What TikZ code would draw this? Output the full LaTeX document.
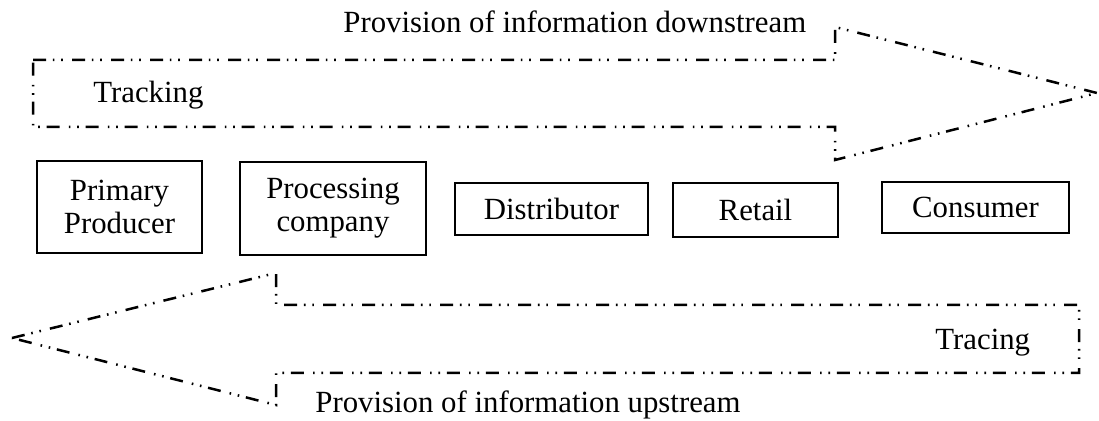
\documentclass[tikz,border=0pt]{standalone}
\usepackage{fontspec}
\setmainfont{Liberation Serif}
\begin{document}
\begin{tikzpicture}[x=0.5pt,y=-0.5pt,
  flow/.style={line width=1.25pt, dash pattern=on 6.5pt off 3.4pt on 0.8pt off 3.4pt on 0.8pt off 4.6pt, line join=miter},
  box/.style={draw, line width=1.1pt, inner sep=0pt, align=center, font=\fontsize{15.4}{16.5}\selectfont},
  lbl/.style={inner sep=0pt, font=\fontsize{15.4}{16.5}\selectfont}]
\useasboundingbox (0,0) rectangle (1099,421);
% top arrow
\draw[flow] (33,60) -- (835,60) -- (835,27) -- (1097,93) -- (835,160) -- (835,127) -- (33,127) -- cycle;
% bottom arrow
\draw[flow] (12,338) -- (276,273) -- (276,305) -- (1079,305) -- (1079,373) -- (276,373) -- (276,405) -- cycle;
% labels
\node[lbl, anchor=base west] (down) at (343,33) {Provision of information downstream};
\node[lbl, anchor=base west] (track) at (93,103) {Tracking};
\node[lbl, anchor=base west] (trace) at (935,350) {Tracing};
\node[lbl, anchor=base west] (up) at (315,413) {Provision of information upstream};
% boxes
\node[box, minimum width=82.5pt, minimum height=46pt] (pp) at (119.5,207) {Primary\\Producer};
\node[box, minimum width=93pt, minimum height=46.5pt] (pc) at (333,208.5) {Processing\\company};
\node[box, minimum width=96.5pt, minimum height=26pt] (di) at (551.5,209) {Distributor};
\node[box, minimum width=82.5pt, minimum height=27pt] (re) at (755.5,210) {Retail};
\node[box, minimum width=93.5pt, minimum height=25.5pt] (co) at (975.5,207.5) {Consumer};
\end{tikzpicture}
\end{document}
